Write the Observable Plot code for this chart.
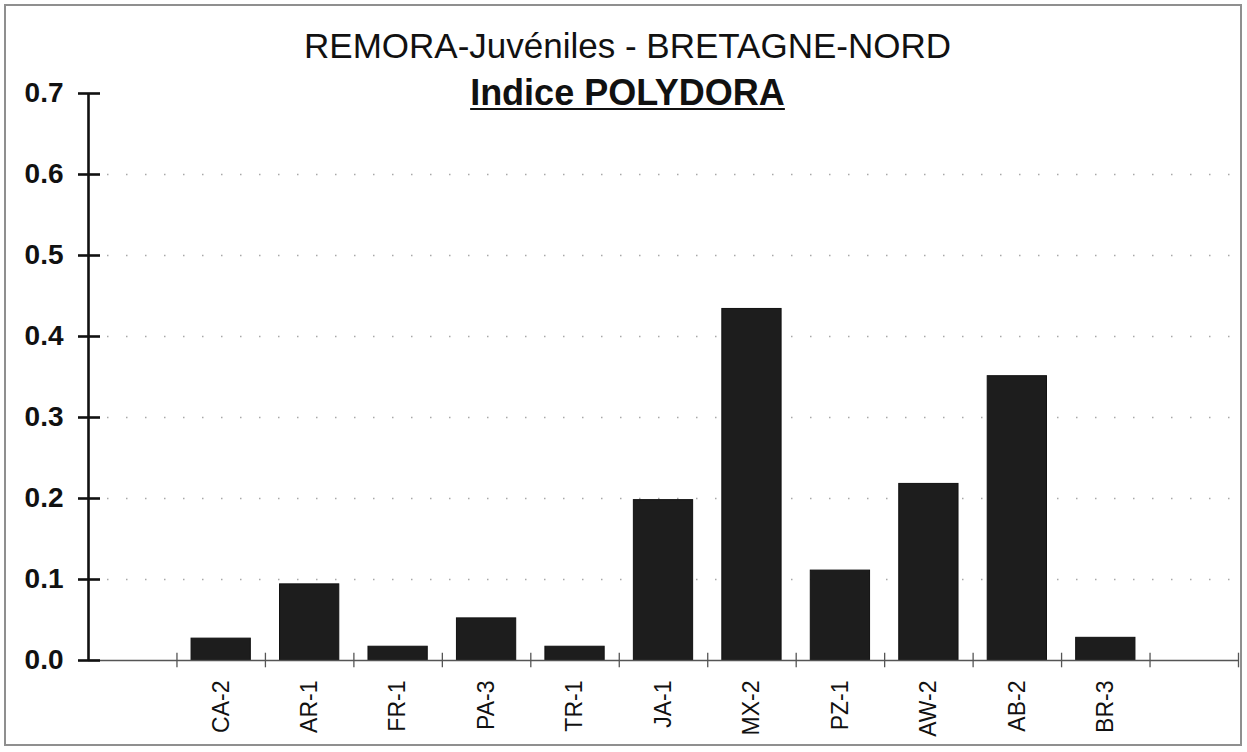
<!DOCTYPE html>
<html>
<head>
<meta charset="utf-8">
<script src="https://cdn.jsdelivr.net/npm/d3@7"></script>
<script src="https://cdn.jsdelivr.net/npm/@observablehq/plot@0.6"></script>
<style>
  html, body { margin: 0; padding: 0; background: #fff; }
  #wrap { position: relative; width: 1247px; height: 752px; font-family: "Liberation Sans", Arial, sans-serif; overflow: hidden; }
  #border { position: absolute; left: 4px; top: 4px; width: 1238px; height: 742px; border: 2px solid #8f8f8f; box-sizing: border-box; pointer-events: none; }
  .t { position: absolute; left: 0; width: 1255px; text-align: center; color: #111; line-height: 1; white-space: nowrap; }
  #t1 { top: 28px; font-size: 35px; }
  #t2 { top: 75px; font-size: 36px; font-weight: bold; text-decoration: underline; text-decoration-thickness: 2px; text-underline-offset: 3px; }
  #chart { position: absolute; left: 0; top: 0; }
</style>
</head>
<body>
<div id="wrap">
  <div id="chart"></div>
  <div id="border"></div>
  <div class="t" id="t1">REMORA-Juvéniles - BRETAGNE-NORD</div>
  <div class="t" id="t2">Indice POLYDORA</div>
</div>
<script>
const sites = ["CA-2", "AR-1", "FR-1", "PA-3", "TR-1", "JA-1", "MX-2", "PZ-1", "AW-2", "AB-2", "BR-3"];
const values = [0.027, 0.094, 0.017, 0.052, 0.017, 0.198, 0.434, 0.111, 0.218, 0.351, 0.028];
const yTicks = [0, 0.1, 0.2, 0.3, 0.4, 0.5, 0.6, 0.7];
const gridTicks = [0.1, 0.2, 0.3, 0.4, 0.5, 0.6];

const data = sites.map((s, i) => ({site: s, value: values[i]}));
const domain = ["_0", ...sites, "_1"];

const W = 1247, H = 752, mL = 88, mR = 9, mT = 93, mB = 92;
const fw = W - mL - mR;
const step = fw / domain.length;

const chart = Plot.plot({
  width: W,
  height: H,
  marginLeft: mL,
  marginRight: mR,
  marginTop: mT,
  marginBottom: mB,
  style: {fontFamily: "'Liberation Sans', Arial, sans-serif", color: "#111", background: "transparent"},
  x: {domain, paddingInner: 0.33, paddingOuter: 0.165, round: false, label: null},
  y: {domain: [0, 0.7], label: null},
  marks: [
    Plot.ruleY(gridTicks, {stroke: "#a8a8a8", strokeWidth: 1.5, strokeDasharray: "1.5,17.5"}),
    Plot.barY(data, {x: "site", y: "value", fill: "#1d1d1d", stroke: "#111", strokeWidth: 1}),
    Plot.ruleY([0], {stroke: "#555", strokeWidth: 1.5}),
    Plot.ruleX([...sites, "_1"], {x: d => d, dx: -step / 2, y1: -0.009, y2: 0.009, stroke: "#555", strokeWidth: 1.3}),
    Plot.ruleX(["_1"], {x: d => d, dx: step / 2, y1: -0.009, y2: 0.009, stroke: "#555", strokeWidth: 1.3}),
    Plot.ruleX(["_0"], {x: d => d, dx: -step / 2, y1: 0, y2: 0.7, stroke: "#111", strokeWidth: 2.6}),
    Plot.ruleY(yTicks, {insetLeft: -10, insetRight: fw - 12, stroke: "#111", strokeWidth: 2.6}),
    Plot.axisY({ticks: yTicks, tickSize: 0, tickPadding: 25, tickFormat: d3.format(".1f"), fontSize: 28, fontWeight: "bold", label: null}),
    Plot.axisX({ticks: sites, tickSize: 0, tickPadding: 20, tickRotate: -90, fontSize: 23, label: null})
  ]
});
document.getElementById("chart").appendChild(chart);
</script>
</body>
</html>
